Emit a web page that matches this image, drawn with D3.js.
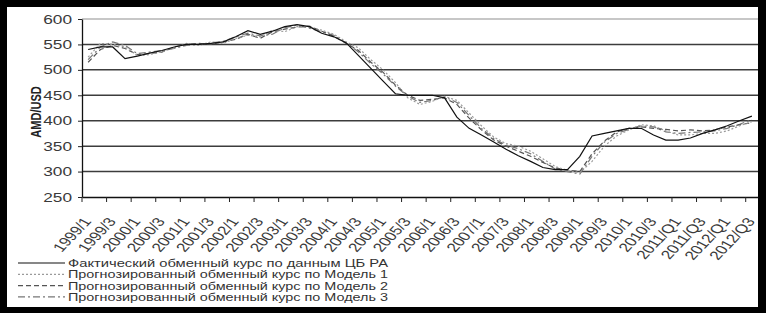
<!DOCTYPE html>
<html>
<head>
<meta charset="utf-8">
<script src="https://cdn.jsdelivr.net/npm/d3@7"></script>
<style>
  html, body { margin: 0; padding: 0; background: #000; }
  svg { display: block; }
  text { font-family: "Liberation Sans", Arial, sans-serif; }
</style>
</head>
<body>
<div id="chart"></div>
<script>
// quarters 1999/1 .. 2012/Q3
const categories = [
  "1999/1","1999/2","1999/3","1999/4","2000/1","2000/2","2000/3","2000/4",
  "2001/1","2001/2","2001/3","2001/4","2002/1","2002/2","2002/3","2002/4",
  "2003/1","2003/2","2003/3","2003/4","2004/1","2004/2","2004/3","2004/4",
  "2005/1","2005/2","2005/3","2005/4","2006/1","2006/2","2006/3","2006/4",
  "2007/1","2007/2","2007/3","2007/4","2008/1","2008/2","2008/3","2008/4",
  "2009/1","2009/2","2009/3","2009/4","2010/1","2010/2","2010/3","2010/4",
  "2011/Q1","2011/Q2","2011/Q3","2011/Q4","2012/Q1","2012/Q2","2012/Q3"
];

const actual = [
  540,545,545,522,527,533,538,545,550,550,552,555,565,577,570,576,
  585,589,585,572,565,553,528,503,478,453,450,450,450,445,407,385,
  372,358,344,331,320,308,304,304,330,370,375,380,385,385,372,362,
  362,366,375,382,390,400,409
];
const model1 = [
  525,552,550,545,528,530,536,543,552,548,555,552,562,568,565,578,
  575,585,584,578,570,555,543,520,500,475,445,432,438,448,440,415,
  390,368,355,350,340,325,310,302,298,320,350,370,382,392,390,380,
  372,372,375,375,380,390,398
];
const model2 = [
  515,540,548,542,530,532,535,545,550,552,550,555,560,570,562,575,
  580,584,586,576,566,552,538,515,495,470,450,440,442,445,432,405,
  382,362,350,340,330,318,307,303,300,335,360,378,385,388,385,383,
  380,382,380,382,388,392,396
];
const model3 = [
  520,545,555,548,532,535,538,542,548,550,553,556,565,572,567,570,
  583,588,582,575,568,553,535,512,492,468,448,436,440,447,436,410,
  385,365,352,345,335,320,305,300,295,330,358,375,383,390,388,378,
  375,377,378,380,385,393,402
];

const yTicks = [250, 300, 350, 400, 450, 500, 550, 600];
const xTickLabels = categories.filter((d, i) => i % 2 === 0);

const seriesNames = [
  "Фактический обменный курс по данным ЦБ РА",
  "Прогнозированный обменный курс по Модель 1",
  "Прогнозированный обменный курс по Модель 2",
  "Прогнозированный обменный курс по Модель 3"
];

const W = 766, H = 313;
const SX = 1.38; // the picture is stretched sideways

const svg = d3.select("#chart").append("svg")
  .attr("width", W).attr("height", H);

svg.append("rect").attr("x", 7).attr("y", 7)
  .attr("width", 751).attr("height", 300).attr("fill", "#fff");

const x = d3.scaleBand().domain(categories).range([82, 758]);
const y = d3.scaleLinear().domain([250, 600]).range([197, 19]);

// gridlines
svg.append("g").selectAll("line")
  .data(yTicks.filter(v => v > 250))
  .enter().append("line")
  .attr("x1", 82).attr("x2", 758)
  .attr("y1", d => y(d)).attr("y2", d => y(d))
  .attr("stroke", d => d === 600 ? "#b5b5b5" : "#3c3c3c")
  .attr("stroke-width", 1.5);

// y axis
const yAxis = svg.append("g")
  .attr("transform", "translate(82,0)")
  .call(d3.axisLeft(y).tickValues(yTicks).tickSize(4).tickSizeOuter(0));
yAxis.select(".domain").attr("stroke", "#111").attr("stroke-width", 1.3);
yAxis.selectAll(".tick line").attr("stroke", "#222");
yAxis.selectAll(".tick text")
  .attr("x", -10 / SX)
  .attr("transform", `scale(${SX},1)`)
  .attr("fill", "#3a3a3a")
  .style("font-size", "12.5px");

// x axis
const xAxis = svg.append("g")
  .attr("transform", "translate(0,197)")
  .call(d3.axisBottom(x).tickValues(xTickLabels).tickSize(5).tickSizeOuter(0));
xAxis.select(".domain").attr("stroke", "#111").attr("stroke-width", 1.3);
xAxis.selectAll(".tick line")
  .attr("x1", -x.bandwidth() / 2).attr("x2", -x.bandwidth() / 2)
  .attr("stroke", "#222");
xAxis.selectAll(".tick text")
  .attr("x", 0).attr("y", 0).attr("dy", "0.35em")
  .attr("text-anchor", "end")
  .attr("transform", `translate(-1,22) scale(${SX},1) rotate(-55)`)
  .attr("fill", "#3a3a3a")
  .style("font-size", "12.5px");

// y label
svg.append("text")
  .attr("transform", `translate(41,112) scale(${SX},1) rotate(-90)`)
  .attr("text-anchor", "middle")
  .attr("font-weight", "bold")
  .attr("fill", "#222")
  .style("font-size", "11px")
  .text("AMD/USD");

// lines
const styles = [
  { data: actual, stroke: "#111", dash: null, w: 1.2 },
  { data: model1, stroke: "#9a9a9a", dash: "2,2", w: 1.2 },
  { data: model2, stroke: "#555", dash: "5,3", w: 1.2 },
  { data: model3, stroke: "#777", dash: "7,3,2,3", w: 1.2 }
];
const line = d3.line()
  .x((d, i) => x(categories[i]) + x.bandwidth() / 2)
  .y(d => y(d));

const plotG = svg.append("g");
styles.slice().reverse().forEach(s => {
  plotG.append("path")
    .attr("d", line(s.data))
    .attr("fill", "none")
    .attr("stroke", s.stroke)
    .attr("stroke-width", s.w)
    .attr("stroke-dasharray", s.dash);
});

// legend
const legend = svg.append("g");
seriesNames.forEach((name, i) => {
  const ly = 263 + i * 11.3;
  const s = styles[i];
  legend.append("line")
    .attr("x1", 18).attr("x2", 65).attr("y1", ly).attr("y2", ly)
    .attr("stroke", s.stroke).attr("stroke-width", 1.2)
    .attr("stroke-dasharray", s.dash);
  legend.append("text")
    .attr("x", 68).attr("y", ly).attr("dy", "0.36em")
    .attr("textLength", 320).attr("lengthAdjust", "spacingAndGlyphs")
    .attr("fill", "#333")
    .style("font-size", "11.5px")
    .text(name);
});
</script>
</body>
</html>
